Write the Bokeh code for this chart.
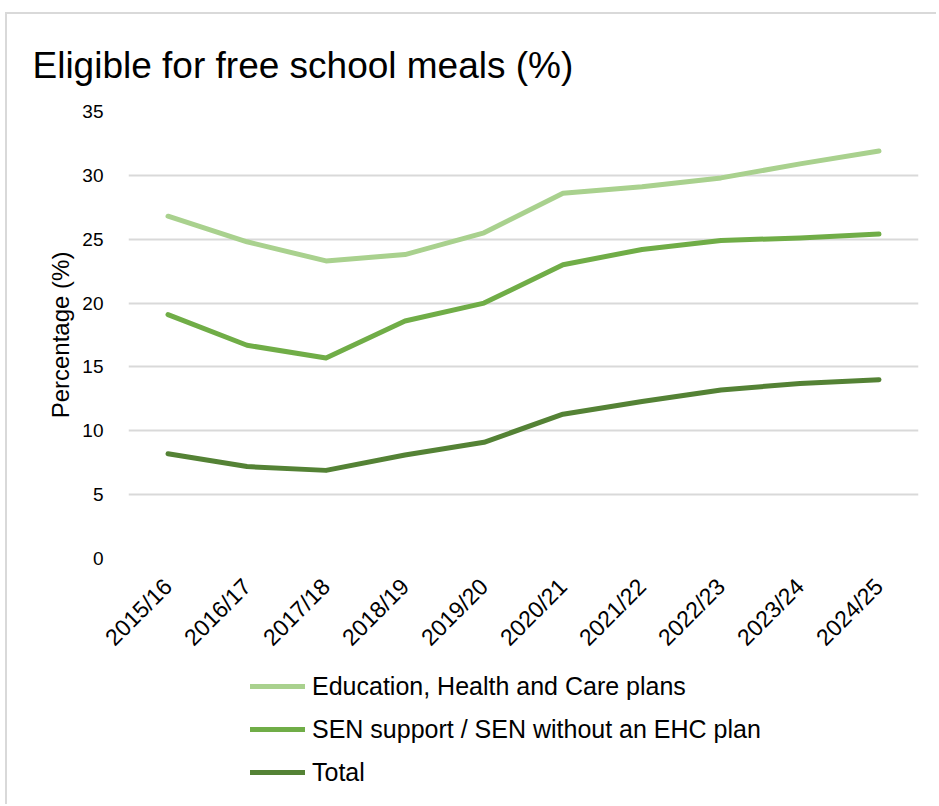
import math
from bokeh.plotting import figure
from bokeh.layouts import column
from bokeh.models import Range1d, FactorRange, Legend, LegendItem, ColumnDataSource
from bokeh.embed import file_html
from bokeh.resources import INLINE

years = ["2015/16", "2016/17", "2017/18", "2018/19", "2019/20",
         "2020/21", "2021/22", "2022/23", "2023/24", "2024/25"]
ehc = [26.8, 24.8, 23.3, 23.8, 25.5, 28.6, 29.1, 29.8, 30.9, 31.9]
sen_support = [19.1, 16.7, 15.7, 18.6, 20.0, 23.0, 24.2, 24.9, 25.1, 25.4]
total = [8.2, 7.2, 6.9, 8.1, 9.1, 11.3, 12.3, 13.2, 13.7, 14.0]
y_ticks = [0, 5, 10, 15, 20, 25, 30, 35]

series_names = ["Education, Health and Care plans",
                "SEN support / SEN without an EHC plan",
                "Total"]
colors = ["#a9d18e", "#70ad47", "#548235"]

FONT = "Liberation Sans"

p = figure(width=929, height=654, x_range=FactorRange(factors=years),
           y_range=Range1d(0, 35), output_backend="svg", toolbar_location=None,
           min_border_left=121, min_border_right=18, min_border_top=97,
           min_border_bottom=110)

p.title.text = "Eligible for free school meals (%)"
p.title.text_font = FONT
p.title.text_font_size = "37px"
p.title.text_font_style = "normal"
p.title.text_color = "#000000"
p.title.align = "left"
p.title.offset = -96
p.title.standoff = 52

p.outline_line_color = None
p.xgrid.grid_line_color = None
p.ygrid.grid_line_color = "#d9d9d9"
p.ygrid.grid_line_width = 2
p.yaxis.ticker = y_ticks
p.yaxis.axis_line_color = None
p.yaxis.major_tick_line_color = None
p.yaxis.minor_tick_line_color = None
p.yaxis.major_label_text_font = FONT
p.yaxis.major_label_text_font_size = "19px"
p.yaxis.major_label_text_color = "#000000"
p.yaxis.major_label_standoff = 19
p.yaxis.axis_label = "Percentage (%)"
p.yaxis.axis_label_text_font = FONT
p.yaxis.axis_label_text_font_size = "24px"
p.yaxis.axis_label_text_font_style = "normal"
p.yaxis.axis_label_text_color = "#000000"
p.yaxis.axis_label_standoff = 5

p.xaxis.axis_line_color = None
p.xaxis.major_tick_line_color = None
p.xaxis.minor_tick_line_color = None
p.xaxis.major_label_orientation = math.pi / 4
p.xaxis.major_label_text_font = FONT
p.xaxis.major_label_text_font_size = "23px"
p.xaxis.major_label_text_color = "#000000"
p.xaxis.major_label_standoff = 18

# legend-only figure below the chart (its lines fall outside its view)
q = figure(width=929, height=136, x_range=FactorRange(factors=years),
           y_range=Range1d(1000, 1001), output_backend="svg", toolbar_location=None,
           x_axis_type=None, y_axis_type=None, min_border_left=121,
           min_border_right=18, min_border_top=0, min_border_bottom=0)
q.outline_line_color = None
q.grid.grid_line_color = None

items = []
for name, vals, c in zip(series_names, [ehc, sen_support, total], colors):
    src = ColumnDataSource(dict(x=years, y=vals))
    p.line("x", "y", source=src, line_color=c, line_width=5,
           line_cap="round", line_join="round")
    r = q.line("x", "y", source=src, line_color=c, line_width=5,
               line_cap="round", line_join="round")
    items.append(LegendItem(label=name, renderers=[r]))

legend = Legend(items=items, location=(122, 17), orientation="vertical",
                padding=0, margin=0, spacing=13, label_height=30, glyph_height=30,
                glyph_width=55, label_standoff=7, border_line_color=None,
                background_fill_alpha=0, label_text_font=FONT,
                label_text_font_size="25px", label_text_color="#000000")
q.add_layout(legend, "center")

layout = column(p, q, spacing=0,
                styles={"border-top": "2px solid #d9d9d9",
                        "border-left": "2px solid #d9d9d9",
                        "margin-left": "5px", "margin-top": "12px"})
open("out.html", "w").write(file_html(layout, INLINE))
